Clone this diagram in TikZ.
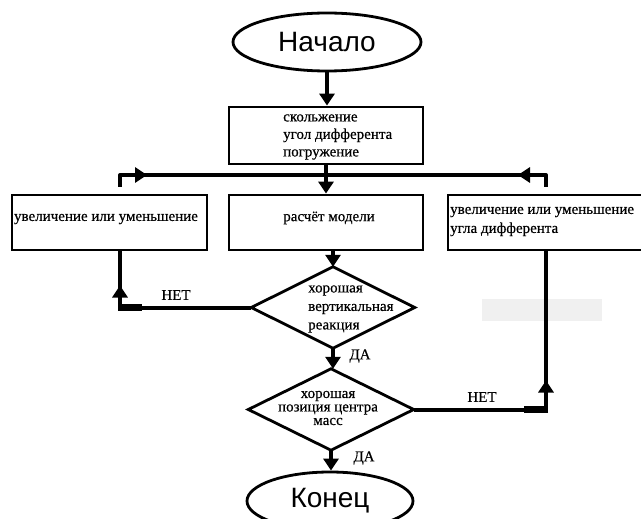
\documentclass[tikz,border=0pt]{standalone}
\usepackage{fontspec}
\setmainfont{Liberation Serif}[FakeBold=0.5]
\newfontfamily\headfont{Liberation Sans}
\usetikzlibrary{shapes.geometric,arrows.meta,calc}
\begin{document}
\begin{tikzpicture}[x=1pt,y=-1pt,
  boxstyle/.style={draw, line width=2.8pt, rectangle, inner sep=0pt},
  ellstyle/.style={draw, line width=2.8pt, ellipse, inner sep=0pt, font=\headfont\fontsize{28}{30}\selectfont},
  diam/.style={line width=2.8pt, line join=miter},
  conn/.style={line width=4pt},
  tip/.style={line width=4pt, -{Triangle[width=15pt,length=12pt]}},
  txt/.style={font=\fontsize{15}{18}\selectfont, inner sep=0pt},
]
\useasboundingbox (0,0) rectangle (641,519);
\fill[white] (0,0) rectangle (641,519);
% faint grey patch
\fill[gray!12] (482,299) rectangle (602,321);

% nodes
\node[ellstyle, minimum width=188pt, minimum height=58pt] (start) at (327,42) {Начало};
\node[boxstyle, minimum width=194pt, minimum height=57pt] (box1) at (326,135.5) {};
\node[txt, align=left, anchor=west, font=\fontsize{15}{17.5}\selectfont] (box1t) at (283,137) {скольжение\\угол дифферента\\погружение};

\node[boxstyle, minimum width=195pt, minimum height=55pt] (left) at (109.5,222.5) {};
\node[txt] (leftt) at (106,219) {увеличение или уменьшение};
\node[boxstyle, minimum width=194pt, minimum height=55pt] (mid) at (326,222.5) {};
\node[txt] (midt) at (329,218) {расчёт модели};
\node[boxstyle, minimum width=220pt, minimum height=55pt] (right) at (558,222.5) {};
\node[txt, align=left, anchor=west, font=\fontsize{15}{19}\selectfont] (rightt) at (450,221.5) {увеличение или уменьшение\\угла дифферента};

\node[minimum width=163pt, minimum height=81pt, inner sep=0pt] (d1) at (333,307.5) {};
\draw[diam] (d1.north) -- (d1.east) -- (d1.south) -- (d1.west) -- cycle;
\node[txt, align=left, anchor=west, font=\fontsize{15}{18.5}\selectfont] (d1t) at (308,309) {хорошая\\вертикальная\\реакция};

\node[minimum width=165pt, minimum height=81pt, inner sep=0pt] (d2) at (331,409.5) {};
\draw[diam] (d2.north) -- (d2.east) -- (d2.south) -- (d2.west) -- cycle;
\node[txt, align=center, font=\fontsize{15}{13.5}\selectfont] (d2t) at (328,408) {хорошая\\позиция центра\\масс};

\node[ellstyle, minimum width=166pt, minimum height=58pt] (end) at (330,501) {Конец};

% labels
\node[txt] (no1) at (176,295) {НЕТ};
\node[txt] (yes1) at (360,356) {ДА};
\node[txt] (no2) at (482,397) {НЕТ};
\node[txt] (yes2) at (364,458) {ДА};

% main vertical arrows
\draw[tip] (start.south) -- (start.south |- box1.north);
\draw[tip] (box1.south) -- (box1.south |- mid.north);
\draw[tip] (d1.north |- mid.south) -- (d1.north);
\draw[tip] (d1.south) -- (d1.south |- d2.north);
\draw[tip] (d2.south) -- (d2.south |- end.north);

% bus
\coordinate (bl) at (120,175);
\coordinate (br) at (546,175);
\draw[conn, line join=round] ($(bl |- left.north)+(0,-7)$) -- (bl) -- (br) -- ($(br |- right.north)+(0,-7)$);
\draw[tip] (bl) -- (147,175);
\draw[tip] (br) -- (518,175);

% left loop (NO)
\coordinate (cl) at (d1.west -| bl);
\draw[conn, line join=round] (d1.west) -- (cl) -- (bl |- left.south);
\draw[line width=6.5pt] ($(cl)+(-2,0)$) -- ++(24,0);
\draw[tip] (cl) -- ++(0,-22);

% right loop (NO)
\coordinate (cr) at (d2.east -| br);
\draw[conn, line join=round] (d2.east) -- (cr) -- (br |- right.south);
\draw[line width=6.5pt] ($(cr)+(2,0)$) -- ++(-24,0);
\draw[tip] (cr) -- ++(0,-29);
\end{tikzpicture}
\end{document}
